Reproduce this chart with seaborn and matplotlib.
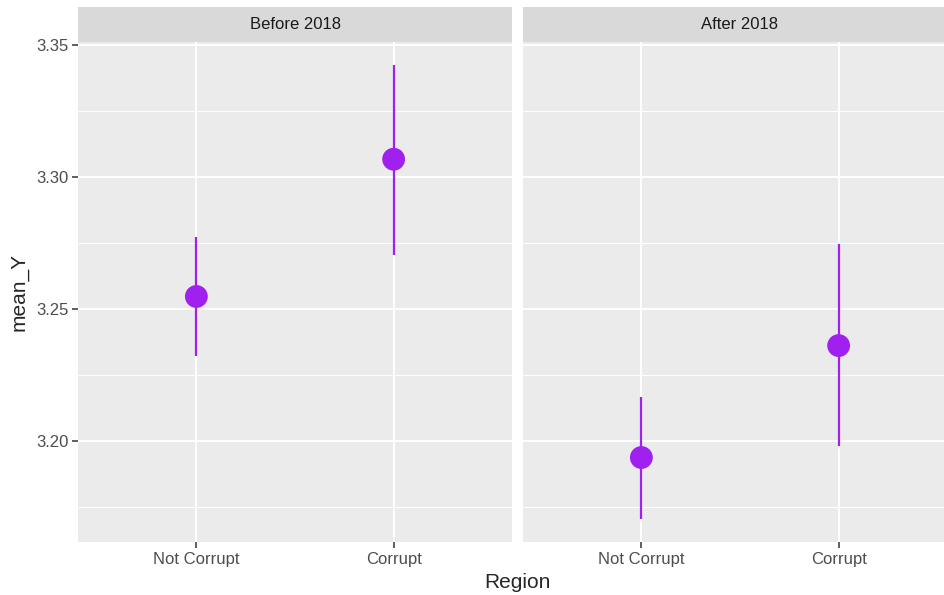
import numpy as np
import pandas as pd
import seaborn as sns
import matplotlib.pyplot as plt
from matplotlib.patches import Rectangle
from matplotlib.ticker import MultipleLocator

# values
periods = ['Before 2018', 'Before 2018', 'After 2018', 'After 2018']
regions = ['Not Corrupt', 'Corrupt', 'Not Corrupt', 'Corrupt']
mean_y = [3.2546, 3.3066, 3.1936, 3.2360]
lower = [3.2321, 3.2705, 3.1702, 3.1979]
upper = [3.2770, 3.3424, 3.2165, 3.2743]

period_order = ['Before 2018', 'After 2018']
region_order = ['Not Corrupt', 'Corrupt']

df = pd.DataFrame({'period': periods, 'Region': regions, 'mean_Y': mean_y,
                   'lower': lower, 'upper': upper})

sns.set_theme(style='darkgrid', rc={'axes.facecolor': '#EBEBEB',
                                    'grid.color': 'white'})
plt.rcParams['font.family'] = ['Liberation Sans', 'DejaVu Sans']

purple = '#A020F0'


def draw(data, **kw):
    ax = plt.gca()
    x = [region_order.index(r) for r in data.Region]
    ax.vlines(x, data.lower, data.upper, color=purple, lw=1.6, zorder=3)
    ax.scatter(x, data.mean_Y, s=270, color=purple, edgecolor='none', zorder=4)


g = sns.FacetGrid(df, col='period', col_order=period_order, sharey=True)
g.map_dataframe(draw)

fig = g.figure
fig.set_size_inches(9.45, 5.95)
W, H = 945, 595
# panel geometry in pixels (ggplot style, right panel cropped at edge)
lefts = [78, 523]
pw, top, bottom = 434, 42, 542
for i, ax in enumerate(g.axes.flat):
    ax.set_position([lefts[i] / W, (H - bottom) / H, pw / W, (bottom - top) / H])
    ax.set_title('')
    ax.set_xlabel('')
    ax.set_ylabel('')
    ax.set_xlim(-0.6, 1.6)
    ax.set_ylim(3.1616, 3.3510)
    ax.set_xticks([0, 1])
    ax.set_xticklabels(region_order)
    ax.set_yticks([3.20, 3.25, 3.30, 3.35])
    ax.yaxis.set_minor_locator(MultipleLocator(0.025))
    ax.grid(which='major', color='white', lw=1.4)
    ax.grid(which='minor', axis='y', color='white', lw=0.7)
    ax.tick_params(which='minor', length=0)
    ax.tick_params(axis='x', which='major', length=4, width=1.1, color='#333333',
                   labelsize=12, labelcolor='#4D4D4D', pad=3, bottom=True)
    for s in ax.spines.values():
        s.set_visible(False)
    # strip on top of panel
    sh = 35 / (bottom - top)
    ax.add_patch(Rectangle((0, 1), 1, sh, transform=ax.transAxes,
                           facecolor='#D9D9D9', edgecolor='none', clip_on=False))
    ax.text(0.5, 1 + sh / 2, period_order[i], transform=ax.transAxes,
            ha='center', va='center', fontsize=12, color='#1A1A1A')

ax0 = g.axes.flat[0]
ax0.yaxis.set_major_formatter(plt.FormatStrFormatter('%.2f'))
ax0.tick_params(axis='y', which='major', length=4, width=1.1, color='#333333',
                labelsize=12, labelcolor='#4D4D4D', pad=3, left=True)
g.axes.flat[1].tick_params(axis='y', which='major', length=0, labelleft=False)

fig.text(517 / W, 1 - 582 / H, 'Region', ha='center', va='center', fontsize=15)
fig.text(19 / W, 1 - 292 / H, 'mean_Y', ha='center', va='center',
         rotation=90, fontsize=15)

fig.savefig('out.png', dpi=100)
